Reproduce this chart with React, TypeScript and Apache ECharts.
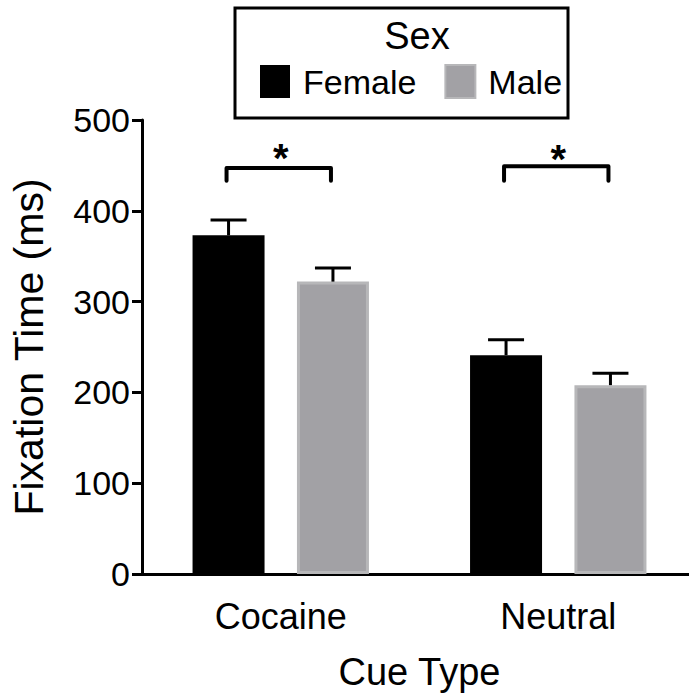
import React, { useEffect, useRef } from "react";
import * as echarts from "echarts";

const categories = ["Cocaine", "Neutral"];
const seriesNames = ["Female", "Male"];
const femaleMeans = [373, 241];
const femaleUpper = [390, 258];
const maleMeans = [322, 208];
const maleUpper = [337, 221];
const bracketTop = [447, 449];
const bracketTip = [433, 433];
const starLevel = [458, 457];
const starText = ["*", "*"];
const yMin = 0;
const yMax = 500;
const yInterval = 100;

const FONT = "'Liberation Sans', Arial, Helvetica, sans-serif";
const BAR_W = 72;
const BAR_GAP = 0.45;
const OFFSET = (BAR_W * (1 + BAR_GAP)) / 2;

function errorSeries(means: number[], upper: number[], sign: number) {
  return {
    type: "custom",
    silent: true,
    z: 5,
    data: means.map((m, i) => [i, m, upper[i]]),
    renderItem: (_params: any, api: any) => {
      const idx = api.value(0);
      const base = api.coord([idx, api.value(1)]);
      const top = api.coord([idx, api.value(2)]);
      const x = base[0] + sign * OFFSET;
      const capHalf = 18;
      return {
        type: "group",
        children: [
          {
            type: "line",
            shape: { x1: x, y1: base[1], x2: x, y2: top[1] },
            style: { stroke: "#000", lineWidth: 3 },
          },
          {
            type: "line",
            shape: { x1: x - capHalf, y1: top[1], x2: x + capHalf, y2: top[1] },
            style: { stroke: "#000", lineWidth: 3 },
          },
        ],
      };
    },
  };
}

export default function App() {
  const ref = useRef<HTMLDivElement>(null);
  useEffect(() => {
    if (!ref.current) return;
    const chart = echarts.init(ref.current, undefined, { renderer: "svg" });
    chart.setOption({
      animation: false,
      backgroundColor: "#fff",
      textStyle: { fontFamily: FONT, color: "#000" },
      grid: { left: 142, top: 120, right: 0, height: 455 },
      legend: {
        data: seriesNames,
        left: 255,
        top: 59,
        itemWidth: 30,
        itemHeight: 33,
        itemGap: 28,
        icon: "rect",
        selectedMode: false,
        textStyle: { fontSize: 34, color: "#000", fontFamily: FONT, padding: [0, 0, 0, 8] },
      },
      graphic: [
        {
          type: "rect",
          shape: { x: 235, y: 8, width: 333, height: 110 },
          style: { fill: "none", stroke: "#000", lineWidth: 3 },
          z: 10,
        },
        {
          type: "text",
          x: 417,
          y: 36,
          style: {
            text: "Sex",
            fontSize: 38,
            fontFamily: FONT,
            fill: "#000",
            align: "center",
            verticalAlign: "middle",
          },
          z: 10,
        },
      ],
      xAxis: {
        type: "category",
        data: categories,
        axisLine: { lineStyle: { color: "#000", width: 3 } },
        axisTick: { show: false },
        axisLabel: { fontSize: 36, color: "#000", margin: 24, fontFamily: FONT },
        name: "Cue Type",
        nameLocation: "middle",
        nameGap: 79,
        nameTextStyle: { fontSize: 38, color: "#000", fontFamily: FONT },
      },
      yAxis: {
        type: "value",
        min: yMin,
        max: yMax,
        interval: yInterval,
        splitLine: { show: false },
        axisLine: { show: true, lineStyle: { color: "#000", width: 3 } },
        axisTick: { show: true, length: 10, lineStyle: { color: "#000", width: 3 } },
        axisLabel: { fontSize: 34, color: "#000", margin: 12, fontFamily: FONT },
        name: "Fixation Time (ms)",
        nameLocation: "middle",
        nameGap: 93,
        nameTextStyle: { fontSize: 41, color: "#000", fontFamily: FONT },
      },
      series: [
        {
          name: seriesNames[0],
          type: "bar",
          data: femaleMeans,
          barWidth: BAR_W,
          barGap: BAR_GAP * 100 + "%",
          itemStyle: { color: "#000" },
          z: 2,
        },
        {
          name: seriesNames[1],
          type: "bar",
          data: maleMeans,
          barWidth: BAR_W,
          barGap: BAR_GAP * 100 + "%",
          itemStyle: { color: "#a2a1a5", borderColor: "#b7b7b9", borderWidth: 3 },
          z: 2,
        },
        errorSeries(femaleMeans, femaleUpper, -1),
        errorSeries(maleMeans, maleUpper, 1),
        {
          type: "custom",
          silent: true,
          z: 6,
          data: categories.map((_c, i) => [i, bracketTop[i], bracketTip[i], starLevel[i]]),
          renderItem: (params: any, api: any) => {
            const idx = api.value(0);
            const top = api.coord([idx, api.value(1)]);
            const tip = api.coord([idx, api.value(2)]);
            const star = api.coord([idx, api.value(3)]);
            const cx = top[0] - 2;
            return {
              type: "group",
              children: [
                {
                  type: "polyline",
                  shape: {
                    points: [
                      [cx - OFFSET, tip[1]],
                      [cx - OFFSET, top[1]],
                      [cx + OFFSET, top[1]],
                      [cx + OFFSET, tip[1]],
                    ],
                  },
                  style: { stroke: "#000", lineWidth: 4, lineCap: "round", lineJoin: "round", fill: null },
                },
                {
                  type: "text",
                  x: cx + 2,
                  y: star[1],
                  style: {
                    text: starText[params.dataIndex],
                    fontSize: 40,
                    fontWeight: "bold",
                    fontFamily: FONT,
                    fill: "#000",
                    align: "center",
                    verticalAlign: "middle",
                  },
                },
              ],
            };
          },
        },
      ],
    });
    return () => chart.dispose();
  }, []);
  return (
    <div
      ref={ref}
      style={{ position: "fixed", left: 0, top: 0, width: 697, height: 696 }}
    />
  );
}
